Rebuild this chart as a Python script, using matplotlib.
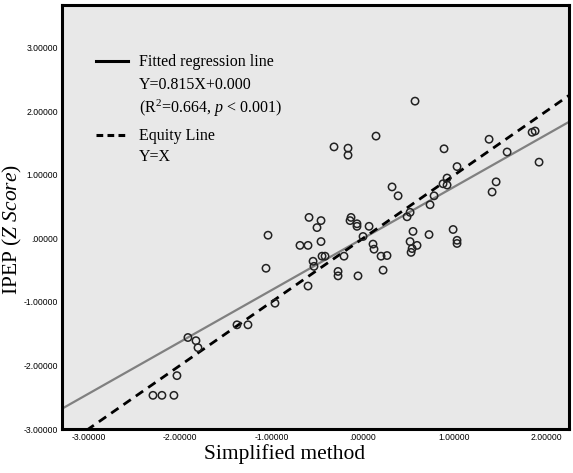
import matplotlib
matplotlib.use("Agg")
import matplotlib.pyplot as plt
from matplotlib.lines import Line2D
import numpy as np

# ---------------- data ----------------
x_vals = [-2.295, -2.197, -2.066, -2.033, -1.913, -1.825, -1.803, -1.377, -1.257, -0.962,
          -1.060, -1.038, -0.590, -0.459, -0.503, -0.131, -0.142, -0.066, -0.066, 0.066,
          -0.689, -0.601, -0.459, 0.000, -0.448, -0.415, -0.546, -0.536, -0.208, -0.273,
          -0.273, -0.055, -0.601, -0.317, -0.164, -0.164, 0.568, 0.142, 0.885, 1.027,
          0.918, 0.874, 0.918, 0.317, 0.383, 0.776, 0.732, 1.377, 1.847, 1.880,
          1.574, 1.923, 1.454, 1.410, 0.481, 0.514, 0.546, 0.721, 0.984, 1.027,
          1.027, 0.514, 0.590, 0.536, 0.525, 0.109, 0.120, 0.197, 0.262, 0.219]
y_vals = [-2.47, -2.47, -2.47, -2.16, -1.56, -1.61, -1.72, -1.36, -1.36, -1.02,
          -0.47, 0.05, 0.33, 0.28, 0.17, 0.33, 0.28, 0.23, 0.19, 0.19,
          -0.11, -0.11, -0.05, 0.03, -0.28, -0.28, -0.36, -0.44, -0.28, -0.52,
          -0.59, -0.59, -0.75, 1.44, 1.42, 1.31, 2.16, 1.61, 1.41, 1.13,
          0.95, 0.86, 0.84, 0.81, 0.67, 0.67, 0.53, 1.56, 1.67, 1.69,
          1.36, 1.20, 0.89, 0.73, 0.34, 0.41, 0.11, 0.06, 0.14, -0.03,
          -0.08, -0.05, -0.11, -0.16, -0.22, -0.09, -0.17, -0.28, -0.27, -0.50]

slope = 0.815
intercept = 0.000

x_ticks = [-3, -2, -1, 0, 1, 2]
x_tick_labels = ["-3.00000", "-2.00000", "-1.00000", ".00000", "1.00000", "2.00000"]
y_ticks = [-3, -2, -1, 0, 1, 2, 3]
y_tick_labels = ["-3.00000", "-2.00000", "-1.00000", ".00000", "1.00000", "2.00000", "3.00000"]

x_label = "Simplified method"
legend_lines = ["Fitted regression line", "Y=0.815X+0.000",
                r"(R$^{2}$=0.664, $p$ < 0.001)", "Equity Line", "Y=X"]

# ---------------- figure ----------------
plt.rcParams['mathtext.fontset'] = 'custom'
plt.rcParams['mathtext.rm'] = 'Liberation Serif'
plt.rcParams['mathtext.it'] = 'Liberation Serif:italic'

fig = plt.figure(figsize=(5.73, 4.73), dpi=100)
ax = fig.add_axes([0.108, 0.093, 0.885, 0.896])
ax.set_facecolor('#e8e8e8')

xlim = (-3.29, 2.25)
ylim = (-3.0, 3.67)
ax.set_xlim(*xlim)
ax.set_ylim(*ylim)

xx = np.array(xlim)
ax.plot(xx, slope * xx + intercept, color='#808080', lw=1.6, zorder=2)
ax.plot(xx, xx, color='black', lw=2.0, ls=(0, (3.2, 2.2)), zorder=3)

ax.scatter(x_vals, y_vals, s=28, facecolors='none', edgecolors='#222222',
           linewidths=1.1, zorder=4)

for sp in ax.spines.values():
    sp.set_linewidth(2.2)
    sp.set_color('black')

ax.set_xticks(x_ticks)
ax.set_xticklabels(x_tick_labels, fontsize=6.2, family='Liberation Sans')
ax.set_yticks(y_ticks)
ax.set_yticklabels(y_tick_labels, fontsize=6.2, family='Liberation Sans')
ax.tick_params(length=0, pad=3)

ax.set_xlabel(x_label, fontsize=15.5, family='Liberation Serif')
ax.xaxis.set_label_coords(0.44, -0.06)
ax.xaxis.label.set_va('center')

ax.set_ylabel(r"IPEP ($Z\ Score$)", fontsize=15.5, family='Liberation Serif')
ax.yaxis.set_label_coords(-0.098, 0.47)
ax.yaxis.label.set_va('center')

# custom legend
tr = ax.transAxes
ax.add_line(Line2D([0.067, 0.130], [0.868, 0.868], transform=tr, color='black', lw=2.2))
ax.add_line(Line2D([0.067, 0.130], [0.693, 0.693], transform=tr, color='black', lw=2.2,
                   ls=(0, (2.2, 1.4))))
ys = [0.865, 0.811, 0.757, 0.691, 0.642]
for t, yv in zip(legend_lines, ys):
    ax.text(0.152, yv, t, transform=tr, fontsize=11.5, family='Liberation Serif',
            va='center', ha='left')

fig.savefig("out.png", dpi=100, facecolor='white')
